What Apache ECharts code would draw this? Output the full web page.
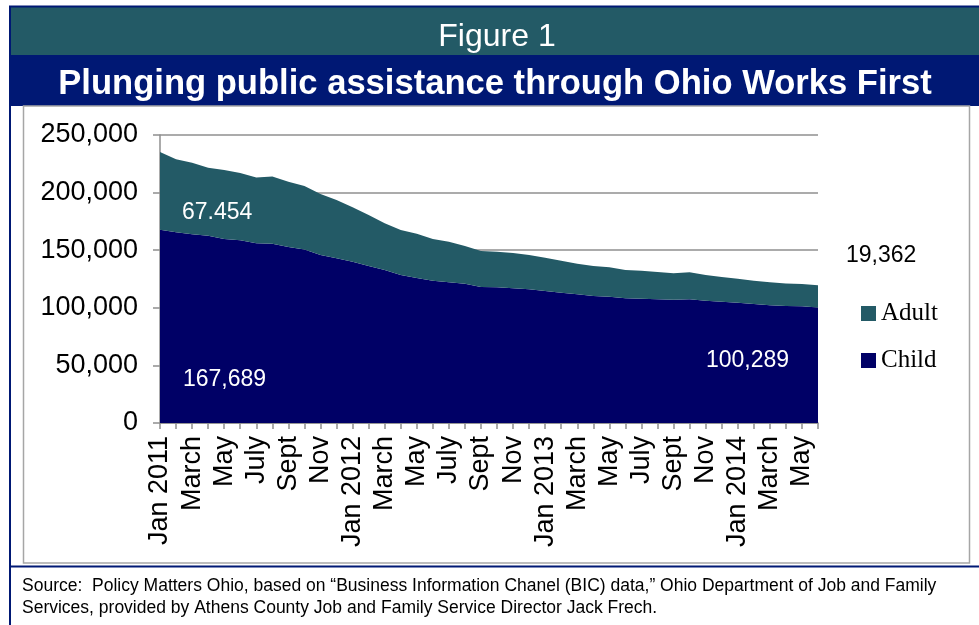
<!DOCTYPE html>
<html>
<head>
<meta charset="utf-8">
<script src="https://cdn.jsdelivr.net/npm/echarts@6/dist/echarts.min.js"></script>
<style>
html, body { margin: 0; padding: 0; background: #fff; }
#main { width: 979px; height: 625px; }
</style>
</head>
<body>
<div id="main"></div>
<script>
// monthly caseload, Jan 2011 - June 2014
var months = [
    'Jan 2011', 'Feb', 'March', 'April', 'May', 'June', 'July', 'Aug', 'Sept', 'Oct', 'Nov', 'Dec',
    'Jan 2012', 'Feb', 'March', 'April', 'May', 'June', 'July', 'Aug', 'Sept', 'Oct', 'Nov', 'Dec',
    'Jan 2013', 'Feb', 'March', 'April', 'May', 'June', 'July', 'Aug', 'Sept', 'Oct', 'Nov', 'Dec',
    'Jan 2014', 'Feb', 'March', 'April', 'May', 'June'
]
var child = [
    167689, 165500, 163800, 162600, 159700, 158600, 156000, 155600, 152800, 150700, 145800, 143000,
    140000, 136300, 132800, 128500, 125800, 123500, 122100, 120900, 118000, 117800, 116900, 116000,
    114600, 113100, 111700, 110200, 109600, 108200, 107900, 107400, 107000, 107400, 106200, 105300,
    104400, 103300, 102200, 101600, 101300, 100289
]
var adult = [
    67454, 63500, 62200, 59000, 59900, 58400, 57000, 58400, 56700, 55000, 53000, 50600,
    47200, 44300, 40500, 39000, 38400, 36200, 35300, 32700, 31300, 30900, 30700, 29800,
    28900, 27800, 26600, 26100, 25600, 24600, 24300, 23700, 22900, 23400, 22300, 21400,
    20900, 20200, 19900, 19600, 19400, 19362
]
var yTicks = [0, 50000, 100000, 150000, 200000, 250000]

var navy = '#001874'
var teal = '#235a66'
var childColor = '#000066'
var gridColor = '#8f8f8f'
var font = 'Liberation Sans, Arial, sans-serif'

function fmt(v) {
    return v.toString().replace(/\B(?=(\d{3})+(?!\d))/g, ',')
}

var chart = echarts.init(document.getElementById('main'))

var options = {
    backgroundColor: '#fff',
    animation: false,
    grid: { left: 160, right: 161, top: 135, bottom: 202 },
    legend: {
        data: ['Adult', 'Child'],
        orient: 'vertical',
        left: 856,
        top: 296,
        icon: 'rect',
        itemWidth: 15,
        itemHeight: 15,
        itemGap: 22,
        textStyle: { fontFamily: 'Liberation Serif, serif', fontSize: 25, color: '#000' }
    },
    xAxis: {
        type: 'category',
        boundaryGap: false,
        data: months,
        axisLine: { lineStyle: { color: gridColor, width: 1.5 } },
        axisTick: { show: true, interval: 0, length: 6, lineStyle: { color: gridColor, width: 1.5 } },
        axisLabel: { interval: 1, rotate: 90, fontSize: 27, fontFamily: font, color: '#000', margin: 13 }
    },
    yAxis: {
        type: 'value',
        min: yTicks[0],
        max: yTicks[yTicks.length - 1],
        interval: yTicks[1] - yTicks[0],
        axisLine: { show: true, lineStyle: { color: gridColor, width: 1.5 } },
        axisTick: { show: true, length: 7, lineStyle: { color: gridColor, width: 1.5 } },
        splitLine: { lineStyle: { color: gridColor, width: 1.5 } },
        axisLabel: { formatter: fmt, fontSize: 27, fontFamily: font, color: '#000', margin: 22 }
    },
    series: [{
        name: 'Child',
        type: 'line',
        stack: 'total',
        data: child,
        symbol: 'none',
        color: childColor,
        lineStyle: { width: 0 },
        areaStyle: { color: childColor, opacity: 1 }
    }, {
        name: 'Adult',
        type: 'line',
        stack: 'total',
        data: adult,
        symbol: 'none',
        color: teal,
        lineStyle: { width: 0 },
        areaStyle: { color: teal, opacity: 1 }
    }],
    graphic: [
        // banner + frame
        { type: 'rect', z: -1, shape: { x: 10, y: 7, width: 969, height: 48 }, style: { fill: teal } },
        { type: 'rect', z: -1, shape: { x: 10, y: 55, width: 969, height: 51 }, style: { fill: navy } },
        { type: 'line', shape: { x1: 9, y1: 6.5, x2: 979, y2: 6.5 }, style: { stroke: navy, lineWidth: 2 } },
        { type: 'line', shape: { x1: 10, y1: 6, x2: 10, y2: 625 }, style: { stroke: navy, lineWidth: 2 } },
        { type: 'rect', z: -1, shape: { x: 23.5, y: 106, width: 946, height: 457 }, style: { fill: 'none', stroke: '#a6a6a6', lineWidth: 1.5 } },
        { type: 'line', shape: { x1: 10, y1: 566.5, x2: 979, y2: 566.5 }, style: { stroke: navy, lineWidth: 2 } },
        {
            type: 'text', x: 497, y: 37,
            style: { text: 'Figure 1', fill: '#fff', font: '32px ' + font, textAlign: 'center', textVerticalAlign: 'middle' }
        },
        {
            type: 'text', x: 495, y: 84,
            style: { text: 'Plunging public assistance through Ohio Works First', fill: '#fff', font: 'bold 34.6px ' + font, textAlign: 'center', textVerticalAlign: 'middle' }
        },
        // value call-outs
        { type: 'text', z: 100, x: 182, y: 213, style: { text: '67.454', fill: '#fff', font: '23px ' + font, textVerticalAlign: 'middle' } },
        { type: 'text', z: 100, x: 183, y: 380, style: { text: fmt(child[0]), fill: '#fff', font: '23px ' + font, textVerticalAlign: 'middle' } },
        { type: 'text', z: 100, x: 706, y: 361, style: { text: fmt(child[child.length - 1]), fill: '#fff', font: '23px ' + font, textVerticalAlign: 'middle' } },
        { type: 'text', z: 100, x: 846, y: 256, style: { text: fmt(adult[adult.length - 1]), fill: '#000', font: '23px ' + font, textVerticalAlign: 'middle' } },
        {
            type: 'text', x: 22, y: 575,
            style: {
                text: 'Source:  Policy Matters Ohio, based on \u201cBusiness Information Chanel (BIC) data,\u201d Ohio Department of Job and Family\nServices, provided by Athens County Job and Family Service Director Jack Frech.',
                fill: '#000', font: '17.5px ' + font, lineHeight: 22
            }
        }
    ]
}

chart.setOption(options)
</script>
</body>
</html>
